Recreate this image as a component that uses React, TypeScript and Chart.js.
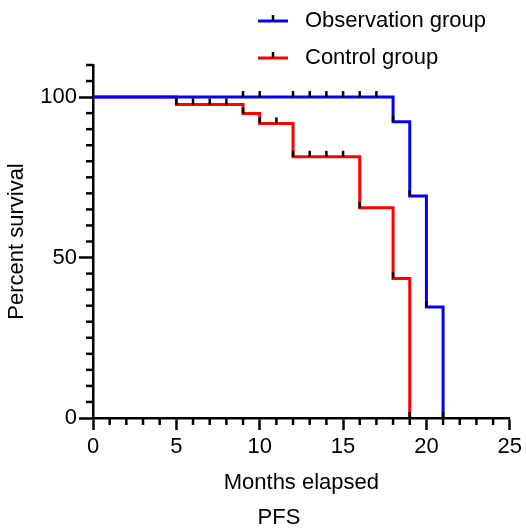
import React, { useEffect, useRef } from 'react';
import { Chart, registerables } from 'chart.js';

Chart.register(...registerables);

const obsLabel = 'Observation group';
const ctrlLabel = 'Control group';
const obsTimes = [0, 18, 19, 20, 21];
const obsSurvival = [100, 92.3, 69.2, 34.6, 0];
const obsCensored = [9, 10, 12, 13, 14, 15, 16, 17];
const ctrlTimes = [0, 5, 9, 10, 12, 16, 18, 19];
const ctrlSurvival = [100, 97.7, 94.9, 91.8, 81.4, 65.5, 43.5, 0];
const ctrlCensored = [6, 7, 8, 11, 13, 14, 15];
const xMajorTicks = [0, 5, 10, 15, 20, 25];
const yMajorTicks = [0, 50, 100];
const xTitle = 'Months elapsed';
const yTitle = 'Percent survival';
const chartTitle = 'PFS';

const OBS_COLOR = '#0000ff';
const CTRL_COLOR = '#ff0000';
const FONT = '"Liberation Sans", Arial, sans-serif';

function levelAt(times: number[], surv: number[], t: number): number {
  let v = surv[0];
  for (let i = 0; i < times.length; i++) if (times[i] <= t) v = surv[i];
  return v;
}

const series = [
  { label: ctrlLabel, color: CTRL_COLOR, times: ctrlTimes, surv: ctrlSurvival, censored: ctrlCensored },
  { label: obsLabel, color: OBS_COLOR, times: obsTimes, surv: obsSurvival, censored: obsCensored },
];

const kmPlugin = {
  id: 'kmExtras',
  afterDatasetsDraw(chart: any) {
    const { ctx, scales } = chart;
    const xs = scales.x;
    const ys = scales.y;
    ctx.save();
    ctx.strokeStyle = '#000';
    ctx.lineWidth = 2.5;
    ctx.lineCap = 'butt';
    for (const s of series) {
      const marks: [number, number][] = [];
      s.censored.forEach((t) => marks.push([t, levelAt(s.times, s.surv, t)]));
      for (let i = 1; i < s.times.length; i++) marks.push([s.times[i], s.surv[i]]);
      for (const [t, v] of marks) {
        const px = xs.getPixelForValue(t);
        const py = ys.getPixelForValue(v);
        ctx.beginPath();
        ctx.moveTo(px, py);
        ctx.lineTo(px, py - 6);
        ctx.stroke();
      }
    }
    ctx.restore();
  },
  afterDraw(chart: any) {
    const { ctx, scales, chartArea } = chart;
    const xs = scales.x;
    const ys = scales.y;
    ctx.save();
    ctx.strokeStyle = '#000';
    ctx.lineWidth = 2.5;
    // minor ticks
    for (let v = 0; v <= 25; v++) {
      if (xMajorTicks.includes(v)) continue;
      const px = xs.getPixelForValue(v);
      ctx.beginPath();
      ctx.moveTo(px, chartArea.bottom);
      ctx.lineTo(px, chartArea.bottom + 7);
      ctx.stroke();
    }
    for (let v = 0; v <= 110; v += 5) {
      if (yMajorTicks.includes(v)) continue;
      const py = ys.getPixelForValue(v);
      ctx.beginPath();
      ctx.moveTo(chartArea.left - 7, py);
      ctx.lineTo(chartArea.left, py);
      ctx.stroke();
    }
    // legend
    const legendItems = [series[1], series[0]];
    legendItems.forEach((s, i) => {
      const y = 21 + i * 37;
      ctx.strokeStyle = s.color;
      ctx.lineWidth = 3;
      ctx.beginPath();
      ctx.moveTo(258, y);
      ctx.lineTo(288, y);
      ctx.stroke();
      ctx.strokeStyle = '#000';
      ctx.lineWidth = 2.5;
      ctx.beginPath();
      ctx.moveTo(273, y);
      ctx.lineTo(273, y - 6);
      ctx.stroke();
      ctx.fillStyle = '#000';
      ctx.font = `22px ${FONT}`;
      ctx.textAlign = 'left';
      ctx.textBaseline = 'middle';
      ctx.fillText(s.label, 305, y);
    });
    // bottom title
    ctx.fillStyle = '#000';
    ctx.font = `22px ${FONT}`;
    ctx.textAlign = 'center';
    ctx.textBaseline = 'middle';
    ctx.fillText(chartTitle, 279, 518);
    ctx.restore();
  },
};

export default function App() {
  const canvasRef = useRef<HTMLCanvasElement | null>(null);

  useEffect(() => {
    if (!canvasRef.current) return;
    const datasets = [series[1], series[0]].map((s) => ({
      label: s.label,
      data: s.times.map((t, i) => ({ x: t, y: s.surv[i] })),
      borderColor: s.color,
      backgroundColor: s.color,
      borderWidth: 3,
      stepped: true,
      pointRadius: 0,
      fill: false,
      clip: 6,
    }));
    const chart = new Chart(canvasRef.current, {
      type: 'line',
      data: { datasets },
      plugins: [kmPlugin],
      options: {
        responsive: false,
        animation: false,
        devicePixelRatio: 1,
        layout: { padding: { top: 65, right: 16, left: 0, bottom: 0 } },
        plugins: { legend: { display: false }, tooltip: { enabled: false }, title: { display: false } },
        scales: {
          x: {
            type: 'linear',
            min: 0,
            max: 25,
            afterFit: (scale: any) => { scale.height = 113; },
            ticks: {
              stepSize: 1,
              autoSkip: false,
              maxRotation: 0,
              padding: 4,
              color: '#000',
              font: { family: FONT, size: 22 },
              callback: (v: any) => (xMajorTicks.includes(Number(v)) ? String(v) : ''),
            },
            grid: {
              drawOnChartArea: false,
              drawTicks: true,
              tickLength: 12,
              tickWidth: 2.5,
              tickColor: (c: any) => (xMajorTicks.includes(c.tick?.value) ? '#000' : 'rgba(0,0,0,0)'),
            },
            border: { display: true, color: '#000', width: 2.5 },
            title: {
              display: true,
              text: xTitle,
              color: '#000',
              font: { family: FONT, size: 22 },
              padding: { top: 0, bottom: 35 },
            },
          },
          y: {
            type: 'linear',
            min: 0,
            max: 110,
            afterFit: (scale: any) => { scale.width = 93; },
            ticks: {
              stepSize: 5,
              autoSkip: false,
              padding: 2,
              color: '#000',
              font: { family: FONT, size: 22 },
              callback: (v: any) => (yMajorTicks.includes(Number(v)) ? String(v) : ''),
            },
            grid: {
              drawOnChartArea: false,
              drawTicks: true,
              tickLength: 14,
              tickWidth: 2.5,
              tickColor: (c: any) => (yMajorTicks.includes(c.tick?.value) ? '#000' : 'rgba(0,0,0,0)'),
            },
            border: { display: true, color: '#000', width: 2.5 },
            title: {
              display: true,
              text: yTitle,
              color: '#000',
              font: { family: FONT, size: 22 },
              padding: { top: 4, bottom: 0 },
            },
          },
        },
      },
    });
    return () => chart.destroy();
  }, []);

  return (
    <div style={{ position: 'absolute', left: 0, top: 0, width: 526, height: 531, background: '#fff' }}>
      <canvas ref={canvasRef} width={526} height={531} />
    </div>
  );
}
